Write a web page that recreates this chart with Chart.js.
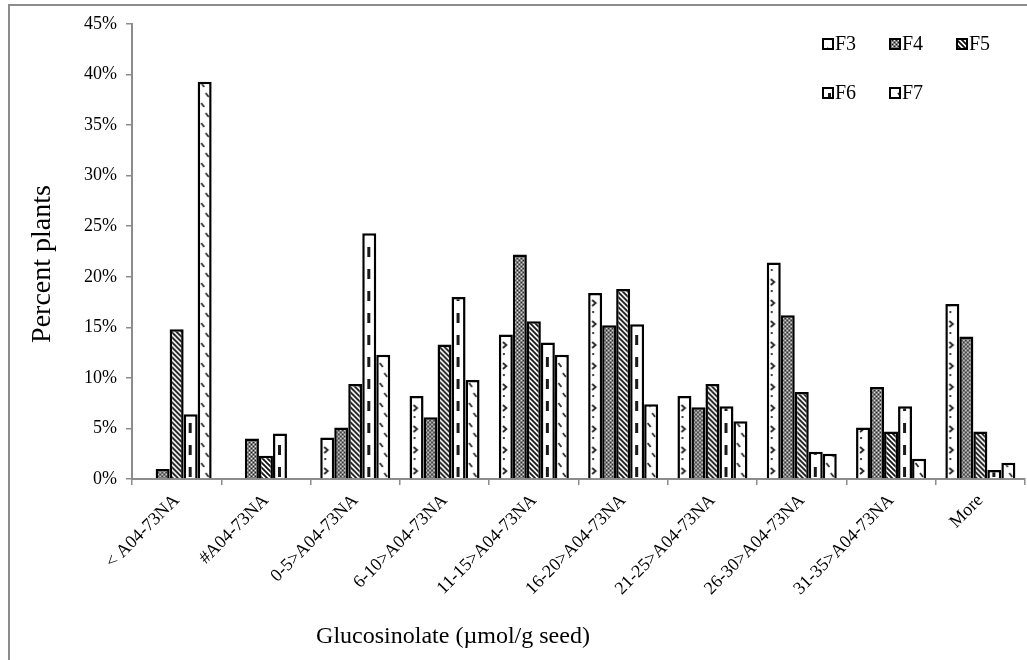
<!DOCTYPE html>
<html>
<head>
<meta charset="utf-8">
<script src="https://cdn.jsdelivr.net/npm/chart.js@4.4.0/dist/chart.umd.min.js"></script>
<style>
    html, body { margin: 0; padding: 0; background: #fff; }
    #wrap { width: 1027px; height: 660px; }
</style>
</head>
<body>
<div id="wrap"><canvas id="myChart" width="1027" height="660"></canvas></div>
<script>
// percent of plants per glucosinolate class, one list per generation
const categories = ['< A04-73NA', '#A04-73NA', '0-5>A04-73NA', '6-10>A04-73NA', '11-15>A04-73NA',
    '16-20>A04-73NA', '21-25>A04-73NA', '26-30>A04-73NA', '31-35>A04-73NA', 'More'];
const seriesNames = ['F3', 'F4', 'F5', 'F6', 'F7'];
const f3Values = [0, 0, 4.1, 8.2, 14.3, 18.4, 8.2, 21.4, 5.1, 17.3];
const f4Values = [1.0, 4.0, 5.1, 6.1, 22.2, 15.2, 7.1, 16.2, 9.1, 14.1];
const f5Values = [14.8, 2.3, 9.4, 13.3, 15.6, 18.8, 9.4, 8.6, 4.7, 4.7];
const f6Values = [6.4, 4.5, 24.3, 18.0, 13.5, 15.3, 7.2, 2.7, 7.2, 0.9];
const f7Values = [39.3, 0, 12.3, 9.8, 12.3, 7.4, 5.7, 2.5, 2.0, 1.6];
const yMax = 45;
const yStep = 5;
const xTitle = 'Glucosinolate (\u00b5mol/g seed)';
const yTitle = 'Percent plants';

const serif = "'Liberation Serif', 'Times New Roman', serif";
const catPct = 0.784;

// small tiles used as hatch fills
function tile(w, h, draw) {
    const c = document.createElement('canvas');
    c.width = w;
    c.height = h;
    const g = c.getContext('2d');
    g.fillStyle = '#fff';
    g.fillRect(0, 0, w, h);
    draw(g);
    return c;
}

const tiles = [
    // F3: sparse chevrons
    tile(14, 21, g => {
        g.strokeStyle = '#222';
        g.lineWidth = 1.8;
        g.beginPath();
        g.moveTo(4, 6); g.lineTo(7.5, 9); g.lineTo(4, 12);
        g.stroke();
        g.fillStyle = '#444';
        g.fillRect(4, 17, 2, 2);
    }),
    // F4: dense grey dots
    tile(4, 4, g => {
        g.fillStyle = '#7c7c7c';
        g.fillRect(0, 0, 4, 4);
        g.fillStyle = '#e8e8e8';
        g.fillRect(0, 0, 1, 1);
        g.fillRect(2, 2, 1, 1);
        g.fillStyle = '#222';
        g.fillRect(2, 0, 1, 1);
        g.fillRect(0, 2, 1, 1);
    }),
    // F5: diagonal stripes
    tile(5, 5, g => {
        g.strokeStyle = '#111';
        g.lineWidth = 1.8;
        g.beginPath();
        g.moveTo(-1, -1); g.lineTo(6, 6);
        g.moveTo(-1, 4); g.lineTo(1, 6);
        g.moveTo(4, -1); g.lineTo(6, 1);
        g.stroke();
    }),
    // F6: vertical dashes
    tile(14, 22, g => {
        g.fillStyle = '#1a1a1a';
        g.fillRect(5, 5, 3, 10);
    }),
    // F7: short slanted dashes
    tile(14, 20, g => {
        g.strokeStyle = '#222';
        g.lineWidth = 1.7;
        g.beginPath();
        g.moveTo(3.5, 3); g.lineTo(6.5, 7);
        g.moveTo(8, 13); g.lineTo(11, 17);
        g.stroke();
    })
];

function patternAt(ctx2d, t, left) {
    const p = ctx2d.createPattern(t, 'repeat');
    p.setTransform(new DOMMatrix([1, 0, 0, 1, left, 0]));
    return p;
}

// fill anchored to each bar's left edge so the marks sit the same way in every bar
function barFill(t) {
    return function (context) {
        const chart = context.chart;
        const x = chart.scales && chart.scales.x;
        if (context.type !== 'data' || !x) {
            return chart.ctx.createPattern(t, 'repeat');
        }
        const step = x.getPixelForValue(1) - x.getPixelForValue(0);
        const barW = step * catPct / seriesNames.length;
        const left = x.getPixelForValue(context.dataIndex) - step * catPct / 2 + context.datasetIndex * barW;
        return patternAt(chart.ctx, t, left);
    };
}

const allValues = [f3Values, f4Values, f5Values, f6Values, f7Values];
const datasets = seriesNames.map((name, i) => ({
    label: name,
    data: allValues[i],
    backgroundColor: barFill(tiles[i]),
    borderColor: '#000',
    borderWidth: 2.5,
    categoryPercentage: catPct,
    barPercentage: 1
}));

const decorations = {
    id: 'decorations',
    beforeDraw(chart) {
        const c = chart.ctx;
        c.save();
        c.fillStyle = '#fff';
        c.fillRect(0, 0, chart.width, chart.height);
        c.strokeStyle = '#8c8c8c';
        c.lineWidth = 2;
        c.beginPath();
        c.moveTo(9, chart.height);
        c.lineTo(9, 5);
        c.lineTo(chart.width, 5);
        c.stroke();
        c.restore();
    },
    afterDraw(chart) {
        const c = chart.ctx;
        c.save();
        c.fillStyle = '#000';
        c.textBaseline = 'middle';

        // legend, three per row
        c.font = '20px ' + serif;
        c.textAlign = 'left';
        seriesNames.forEach((name, i) => {
            const bx = 823 + (i % 3) * 67;
            const by = 44 + Math.floor(i / 3) * 49;
            c.fillStyle = patternAt(c, tiles[i], bx);
            c.fillRect(bx, by - 5, 10, 10);
            c.strokeStyle = '#000';
            c.lineWidth = 2;
            c.strokeRect(bx, by - 5, 10, 10);
            c.fillStyle = '#000';
            c.fillText(name, bx + 12, by + 1);
        });

        // axis titles
        c.textAlign = 'center';
        c.font = '24px ' + serif;
        c.fillText(xTitle, 453, 637);
        c.translate(43, 264);
        c.rotate(-Math.PI / 2);
        c.font = '28px ' + serif;
        c.fillText(yTitle, 0, 0);
        c.restore();
    }
};

const ctx = document.getElementById('myChart');
const myChart = new Chart(ctx, {
    type: 'bar',
    data: {
        labels: categories,
        datasets: datasets
    },
    options: {
        responsive: false,
        animation: false,
        devicePixelRatio: 1,
        layout: {
            padding: { top: 24, right: 2, bottom: 0, left: 10 }
        },
        plugins: {
            legend: { display: false },
            tooltip: { enabled: false }
        },
        scales: {
            x: {
                afterFit: function (scale) { scale.height = 660 - 479; },
                grid: { offset: true, drawOnChartArea: false, tickLength: 6, color: '#8c8c8c', lineWidth: 1.5 },
                border: { color: '#8c8c8c', width: 2 },
                ticks: {
                    autoSkip: false,
                    minRotation: 45,
                    maxRotation: 45,
                    padding: 5,
                    color: '#000',
                    font: { family: serif, size: 18 }
                }
            },
            y: {
                min: 0,
                max: yMax,
                afterFit: function (scale) { scale.width = 122; },
                grid: { drawOnChartArea: false, tickLength: 6, color: '#8c8c8c', lineWidth: 1.5 },
                border: { color: '#8c8c8c', width: 2 },
                ticks: {
                    stepSize: yStep,
                    padding: 9,
                    color: '#000',
                    font: { family: serif, size: 18 },
                    callback: function (value) { return value + '%'; }
                }
            }
        }
    },
    plugins: [decorations]
});
</script>
</body>
</html>
